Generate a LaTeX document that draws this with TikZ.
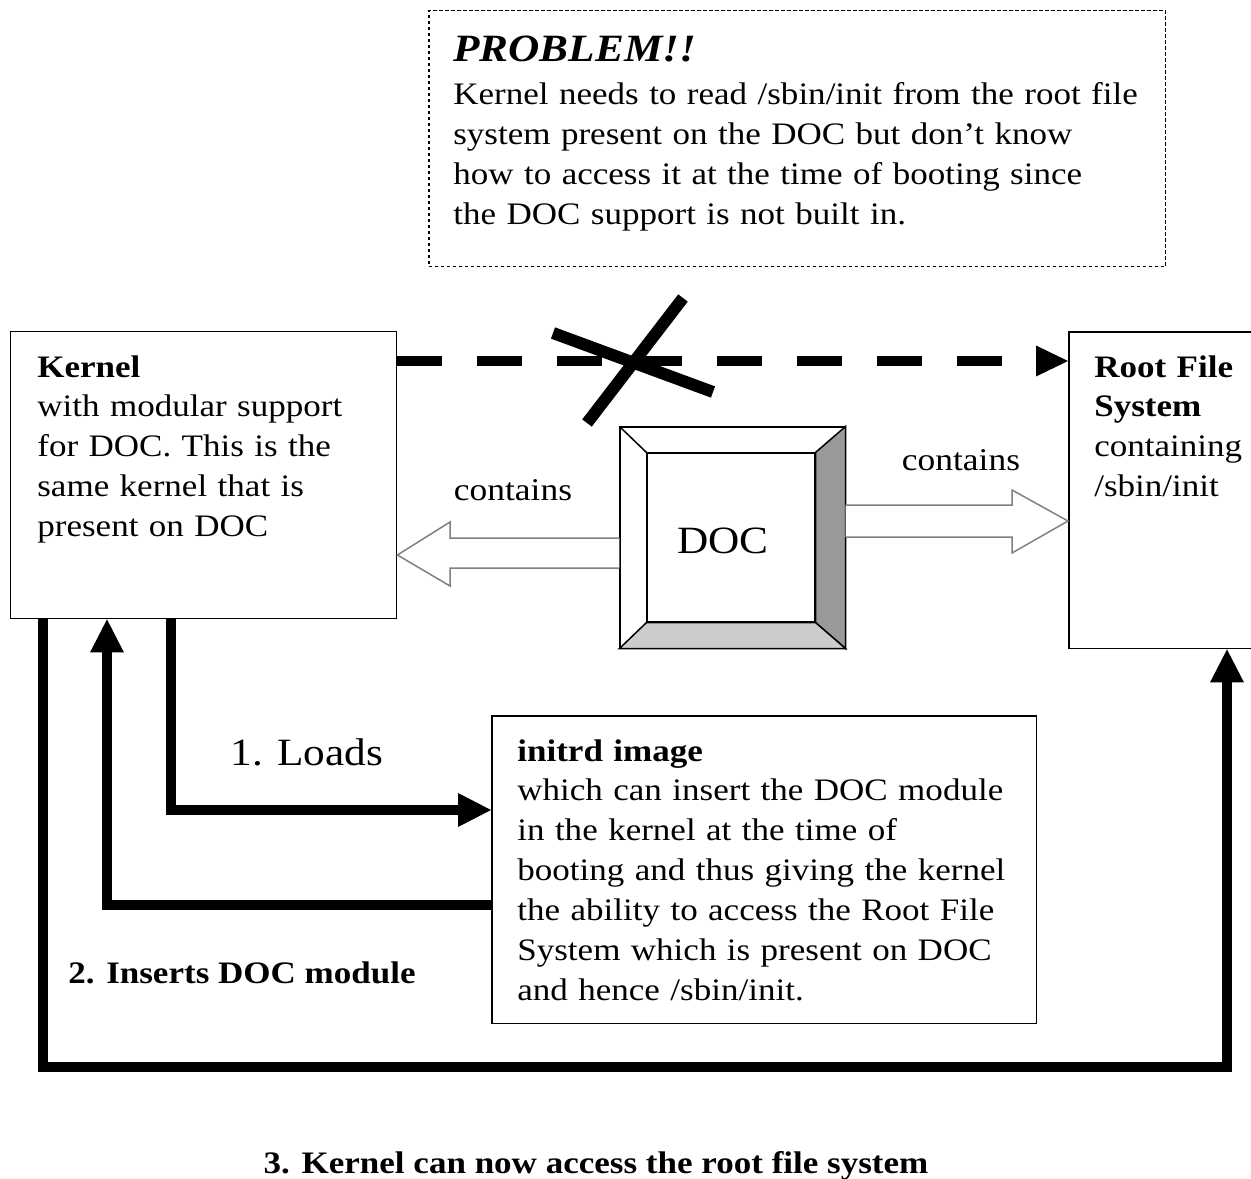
\documentclass[tikz,border=0pt]{standalone}
\usepackage{fontspec}
\setmainfont{Liberation Serif}[FakeStretch=1.12]
\usetikzlibrary{arrows.meta,calc}

\begin{document}
\begin{tikzpicture}
[x=0.02cm,y=-0.02cm,%
  plainBox/.style={shape=rectangle,draw,line width=0.03cm,anchor=north west,inner sep=0pt},%
  dashBox/.style={plainBox,dash pattern=on 0.07cm off 0.05cm},%
  bodyText/.style={anchor=base west,inner sep=0pt,align=left,text width=14cm,font=\fontsize{17.8pt}{22.76pt}\selectfont},%
  labelText/.style={anchor=base,inner sep=0pt,font=\fontsize{18pt}{22pt}\selectfont},%
  bigText/.style={labelText,font=\fontsize{22pt}{26pt}\selectfont},%
  stepLabel/.style={labelText,font=\fontsize{17.8pt}{22pt}\selectfont\bfseries},%
  flowArrow/.style={-{Triangle[length=0.66cm,width=0.68cm,line width=0pt]},line width=0.19cm},%
  dashArrow/.style={-{Triangle[length=0.64cm,width=0.62cm,line width=0pt]},line width=0.2cm,dash pattern=on 0.9cm off 0.7cm},%
  crossLine/.style={line width=0.24cm},%
  hollowArrow/.style={draw=gray,fill=white,line width=0.03cm}]
\useasboundingbox (0,0) rectangle (1251,1179);
%% boxes
\node[dashBox,minimum width=14.74cm,minimum height=5.12cm] (problem) at (428,10) {};
\node[plainBox,minimum width=7.72cm,minimum height=5.74cm] (kernel) at (10,331) {};
\node[plainBox,minimum width=4.3cm,minimum height=6.34cm] (root) at (1068,331) {};
\node[plainBox,minimum width=10.9cm,minimum height=6.16cm] (initrd) at (491,715) {};
%% texts in the boxes
\node[bodyText] (problemTitle) at (453,62) {\fontsize{22pt}{26pt}\selectfont\bfseries\itshape PROBLEM!!};
\node[bodyText] (problemText) at (453,105) {Kernel needs to read /sbin/init from the root file\\
  system present on the DOC but don’t know\\
  how to access it at the time of booting since\\
  the DOC support is not built in.};
\node[bodyText] (kernelText) at (37,377) {\textbf{Kernel}\\with modular support\\for DOC. This is the\\
  same kernel that is\\present on DOC};
\node[bodyText] (rootText) at (1094,377) {\textbf{Root File}\\\textbf{System}\\containing\\/sbin/init};
\node[bodyText] (initrdText) at (517,761) {\textbf{initrd image}\\which can insert the DOC module\\
  in the kernel at the time of\\booting and thus giving the kernel\\
  the ability to access the Root File\\System which is present on DOC\\
  and hence /sbin/init.};
%% DOC chip
\node[plainBox,anchor=center,minimum width=4.5cm,minimum height=4.42cm] (doc) at (732.5,537.5) {};
\node[plainBox,anchor=center,minimum width=3.36cm,minimum height=3.38cm] (docFace) at (731,537.5) {};
\filldraw[fill=black!40,line width=0.03cm] (doc.north east) -- (docFace.north east) -- (docFace.south east) -- (doc.south east) -- cycle;
\filldraw[fill=black!20,line width=0.03cm] (doc.south west) -- (docFace.south west) -- (docFace.south east) -- (doc.south east) -- cycle;
\draw[line width=0.03cm] (doc.north west) -- (docFace.north west);
\node[bigText] (docLabel) at (723,553) {DOC};
%% hollow arrows
\draw[hollowArrow] (doc.west |- 0,538) -- (450,538) -- (450,522) -- (kernel.east |- 0,555)
  -- (450,586) -- (450,568) -- (doc.west |- 0,568);
\draw[hollowArrow] (doc.east |- 0,505) -- (1012,505) -- (1012,490) -- (root.west |- 0,521)
  -- (1012,553) -- (1012,537) -- (doc.east |- 0,537);
\node[labelText] (containsLeft) at (513,500) {contains};
\node[labelText] (containsRight) at (961,470) {contains};
%% blocked access
\draw[dashArrow] (kernel.east |- 0,361) -- (root.west |- 0,361);
\draw[crossLine] (553,333) -- (713,392) (683,298) -- (587,423);
%% boot steps
\coordinate (bottomRight) at (1227,1067);
\draw[flowArrow] (kernel.south -| 171,0) |- (initrd.west |- 0,810);
\draw[flowArrow] (initrd.west |- 0,905) -| (kernel.south -| 107,0);
\draw[flowArrow] (kernel.south -| 43,0) |- (bottomRight) -- (root.south -| bottomRight);
\node[bigText] (loadsLabel) at (307,765) {1. Loads};
\node[stepLabel] (insertsLabel) at (242,983) {2. Inserts DOC module};
\node[stepLabel] (accessLabel) at (596,1173) {3. Kernel can now access the root file system};
\end{tikzpicture}
\end{document}
